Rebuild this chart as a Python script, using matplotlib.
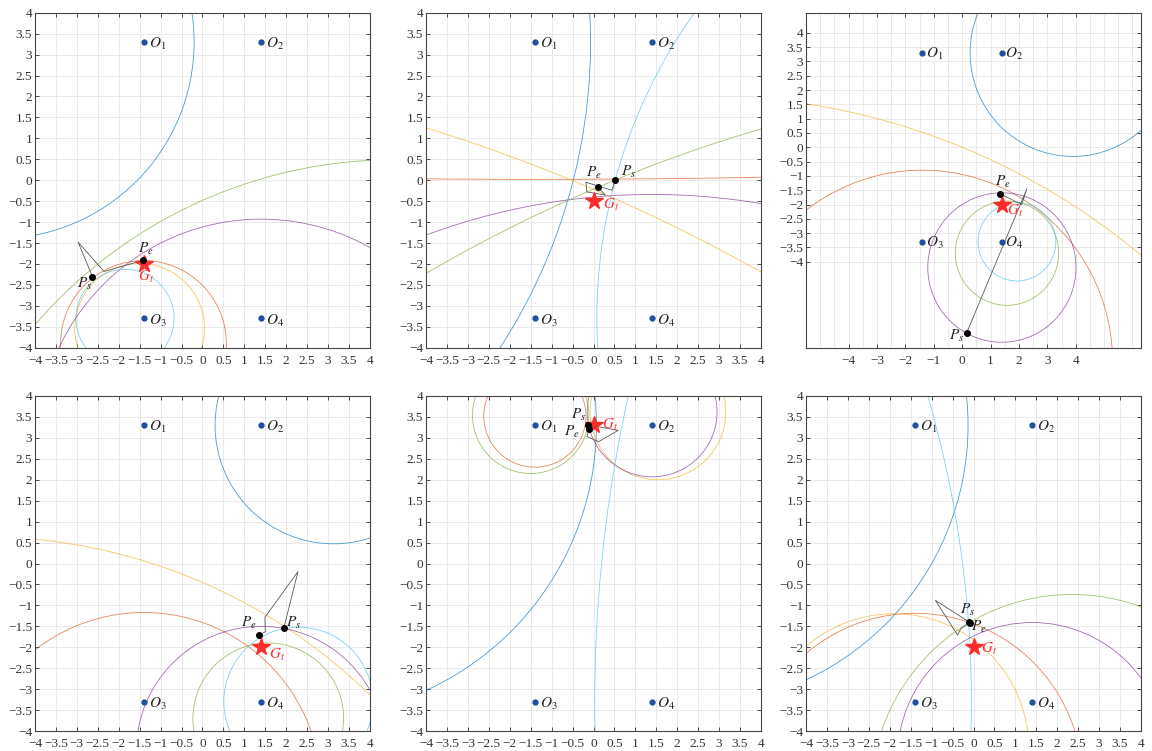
import numpy as np
import matplotlib
matplotlib.use("Agg")
import matplotlib.pyplot as plt
from matplotlib.patches import Circle

plt.rcParams['font.family'] = ['Liberation Serif', 'DejaVu Serif']
plt.rcParams['mathtext.fontset'] = 'stix'

# emitter positions
emit_x = [-1.4, 1.4, -1.4, 1.4]
emit_y = [3.3, 3.3, -3.3, -3.3]
emit_lbl = [r'$O_1$', r'$O_2$', r'$O_3$', r'$O_4$']

# curve colours (pairs 12, 13, 23, 24, 14, 34)
curve_colors = [(0, 0.447, 0.741), (0.85, 0.325, 0.098), (0.929, 0.694, 0.125),
                (0.494, 0.184, 0.556), (0.466, 0.674, 0.188), (0.301, 0.745, 0.933)]

# circle centres / radii per panel
circ_cx = [[-4.9, -1.41, -1.5, 1.4, 4.59, -1.85],
           [-13.49, -1.4, -16.2, 1.4, 14.17, 12.68],
           [3.9, -1.4, -9.17, 1.4, 1.58, 1.93],
           [3.13, -1.4, -5.26, 1.4, 1.57, 2.29],
           [-6.89, -1.4, 1.54, 1.4, -1.5, 33.73],
           [-6.84, -1.4, -1.9, 1.4, 2.35, -26.15]]
circ_cy = [[3.3, -3.9, -3.54, -6.26, -10.84, -3.3],
           [3.3, 291.02, -38.1, -15.84, -33.35, -3.3],
           [3.3, -7.5, -22.47, -4.2, -3.7, -3.3],
           [3.3, -5.4, -12.59, -4.48, -3.7, -3.3],
           [3.3, 3.52, 3.62, 3.62, 3.54, -3.3],
           [3.3, -5.19, -4.42, -4.62, -5.54, -3.3]]
circ_r = [[4.7, 1.98, 1.55, 5.33, 11.33, 1.17],
          [13.42, 291.0, 41.2, 15.5, 36.04, 12.6],
          [3.62, 6.7, 24.27, 2.61, 1.82, 1.37],
          [2.83, 4.23, 13.23, 2.98, 1.8, 1.78],
          [6.96, 1.22, 1.62, 1.55, 1.39, 33.7],
          [6.71, 4.0, 3.22, 3.21, 4.8, 26.1]]

# target, start and end points
gt_x = [-1.4, 0.0, 1.4, 1.4, 0.0, 0.0]
gt_y = [-2.0, -0.5, -2.0, -2.0, 3.3, -2.0]
ps_x = [-2.63, 0.52, 0.16, 1.94, -0.12, -0.10]
ps_y = [-2.30, 0.01, -6.48, -1.55, 3.31, -1.40]
pe_x = [-1.41, 0.11, 1.33, 1.36, -0.10, -0.09]
pe_y = [-1.90, -0.17, -1.62, -1.71, 3.22, -1.42]

# search paths
path_x = [[-2.63, -2.97, -2.35, -1.55, -1.41],
          [0.52, 0.44, -0.18, -0.16, 0.28, 0.11],
          [0.16, 2.28, 2.1, 1.33],
          [1.94, 2.28, 1.49, 1.50, 1.36],
          [-0.12, 0.59, 0.12, -0.16, -0.10],
          [-0.10, -0.91, -0.38, -0.30, -0.09]]
path_y = [[-2.30, -1.48, -2.18, -1.95, -1.90],
          [0.01, -0.24, -0.05, -0.28, -0.355, -0.17],
          [-6.48, -1.45, -2.0, -1.62],
          [-1.55, -0.195, -1.285, -1.63, -1.71],
          [3.31, 3.18, 2.91, 3.03, 3.22],
          [-1.40, -0.88, -1.71, -1.55, -1.42]]

# label positions
ps_lx = [-2.82, 0.83, -0.2, 2.17, -0.36, -0.14]
ps_ly = [-2.47, 0.19, -6.6, -1.43, 3.55, -1.11]
pe_lx = [-1.35, 0.0, 1.44, 1.1, -0.52, 0.12]
pe_ly = [-1.63, 0.17, -1.21, -1.43, 3.15, -1.51]
gt_lx = [-1.35, 0.43, 1.85, 1.77, 0.39, 0.38]
gt_ly = [-2.31, -0.58, -2.22, -2.19, 3.32, -2.03]

fig = plt.figure(figsize=(11.52, 7.51), dpi=100)
W, H = 1152, 751
lefts = [35, 426, 806]
tops = [12.7, 396]
size = 335


def fmt(v):
    return ('%g' % v).replace('-', '\u2212')


for k in range(6):
    row, col = divmod(k, 3)
    ax = fig.add_axes([lefts[col] / W, (H - tops[row] - size) / H, size / W, size / H])
    for j in range(6):
        ax.add_patch(Circle((circ_cx[k][j], circ_cy[k][j]), circ_r[k][j], fill=False,
                            ec=curve_colors[j], lw=0.6, alpha=0.7, zorder=2))
    ax.plot(path_x[k], path_y[k], color=(0.35, 0.35, 0.35), lw=0.6, zorder=3)
    ax.plot(emit_x, emit_y, 'o', color='#1f4f9f', ms=3.5, zorder=4)
    for i in range(4):
        ax.text(emit_x[i] + 0.12, emit_y[i] - 0.05, emit_lbl[i], fontsize=11,
                ha='left', va='center', color='#222222', zorder=5)
    ax.plot(gt_x[k], gt_y[k], '*', color='#ff2a2a', ms=13, zorder=5)
    ax.plot([ps_x[k], pe_x[k]], [ps_y[k], pe_y[k]], 'o', color='black', ms=4, zorder=6)
    ax.text(ps_lx[k], ps_ly[k], r'$P_s$', fontsize=11, ha='center', va='center', color='#222222')
    ax.text(pe_lx[k], pe_ly[k], r'$P_e$', fontsize=11, ha='center', va='center', color='#222222')
    ax.text(gt_lx[k], gt_ly[k], r'$G_t$', fontsize=11, ha='center', va='center', color='#ff3030')

    if k == 2:
        ax.set_xlim(-5.5, 6.3)
        ax.set_ylim(-7.0, 4.7)
        xt = np.arange(-4, 5, 1)
        ax.set_xticks(xt)
        ax.set_xticklabels([fmt(v) for v in xt])
        ax.set_xticks(np.arange(-5.5, 6.3, 0.5), minor=True)
        yt = np.arange(-4, 4.01, 0.5)
        ax.set_yticks(yt)
        ax.set_yticklabels([fmt(v) for v in yt])
        ax.grid(True, which='both', axis='x', color='#e6e6e6', lw=0.6)
        ax.grid(True, which='major', axis='y', color='#e6e6e6', lw=0.6)
    else:
        ax.set_xlim(-4, 4)
        ax.set_ylim(-4, 4)
        ticks = np.arange(-4, 4.01, 0.5)
        ax.set_xticks(ticks)
        ax.set_yticks(ticks)
        ax.set_xticklabels([fmt(v) for v in ticks])
        ax.set_yticklabels([fmt(v) for v in ticks])
        ax.grid(True, color='#e6e6e6', lw=0.6)
    ax.set_axisbelow(True)
    ax.tick_params(direction='in', top=True, right=True, labelsize=9.5, length=3,
                   width=0.6, colors='#333333', pad=2)
    ax.tick_params(axis='x', pad=5)
    ax.tick_params(which='minor', length=0)
    for s in ax.spines.values():
        s.set_color('#444444')
        s.set_linewidth(0.8)

fig.savefig('out.png', dpi=100)
